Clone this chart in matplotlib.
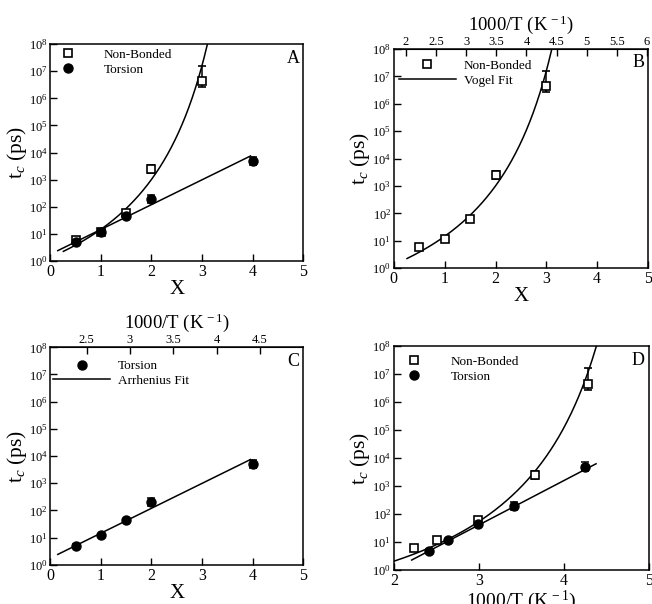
import matplotlib
matplotlib.use('Agg')
import matplotlib.pyplot as plt
import numpy as np
from matplotlib.ticker import FuncFormatter, NullLocator, LogLocator, FixedLocator

plt.rcParams['font.family'] = ['Liberation Serif', 'DejaVu Serif']
plt.rcParams['mathtext.fontset'] = 'custom'
plt.rcParams['mathtext.rm'] = 'Liberation Serif'
plt.rcParams['mathtext.it'] = 'Liberation Serif:italic'

# data
nb_x = [0.5, 1.0, 1.5, 2.0, 3.0]
nb_tc = [6, 12, 60, 2500, 4.5e6]
nb_lo = [5.3, 10.5, 52, 1800, 2.6e6]
nb_hi = [6.8, 13.5, 68, 3500, 1.6e7]

tor_x = [0.5, 1.0, 1.5, 2.0, 4.0]
tor_tc = [5, 12, 45, 200, 5000]
tor_lo = [4.5, 10.8, 40, 140, 3600]
tor_hi = [5.6, 13.3, 50, 280, 7000]

nb_invT = [2.24, 2.51, 2.99, 3.66, 4.29]
tor_invT = [2.41, 2.64, 2.99, 3.41, 4.25]

# fit parameters (ln tc = a + b/(x0 - x) for Vogel, ln tc = a + b*x for Arrhenius)
vogel_x = dict(a=-8.15, b=38.5, x0=4.556, lo=0.26, hi=3.11)
arrh_x = dict(a=0.558, b=2.111, lo=0.15, hi=3.96)
vogel_u = dict(a=-7.31, b=27.9, x0=5.468, lo=2.0, hi=4.39)
arrh_u = dict(a=-7.227, b=3.647, lo=2.21, hi=4.38)

# top axis mapping X -> 1000/T
b_map = (1.801, 0.8432)
c_map = (2.079, 0.584)


def vogel(p):
    x = np.linspace(p['lo'], p['hi'], 300)
    return x, np.exp(p['a'] + p['b'] / (p['x0'] - x))


def arrh(p):
    x = np.array([p['lo'], p['hi']])
    return x, np.exp(p['a'] + p['b'] * x)


def errs(v, lo, hi):
    v = np.array(v)
    return [v - np.array(lo), np.array(hi) - v]


def style(ax, xlim, xticks, letter):
    ax.set_yscale('log')
    ax.set_ylim(1, 1e8)
    ax.set_xlim(*xlim)
    ax.yaxis.set_major_locator(LogLocator(base=10, numticks=10))
    ax.yaxis.set_minor_locator(NullLocator())
    ax.set_xticks(xticks)
    ax.tick_params(axis='x', direction='in', length=5, width=1, labelsize=11.5, pad=2)
    ax.tick_params(axis='y', direction='in', length=5, width=1, labelsize=9, pad=2)
    for s in ax.spines.values():
        s.set_linewidth(1.1)
    ax.set_ylabel(r't$_c$ (ps)', fontsize=15.5, labelpad=0)
    ax.text(0.985, 0.975, letter, transform=ax.transAxes, ha='right', va='top', fontsize=13)


def top_axis(ax, m, ticks):
    sec = ax.secondary_xaxis('top', functions=(lambda x: m[0] + m[1] * x,
                                               lambda u: (u - m[0]) / m[1]))
    sec.xaxis.set_major_locator(FixedLocator(ticks))
    sec.xaxis.set_major_formatter(FuncFormatter(lambda v, p: '%g' % v))
    sec.tick_params(direction='in', length=5, width=1, labelsize=9, pad=1)
    sec.set_xlabel(r'1000/T (K$^{\,-1}$)', fontsize=13.5, labelpad=4)
    return sec


sq = dict(marker='s', ms=5.5, mfc='white', mec='black', mew=1.2, ls='none',
          ecolor='black', elinewidth=1.1, capsize=3, capthick=1.1)
ci = dict(marker='o', ms=6.5, mfc='black', mec='black', ls='none',
          ecolor='black', elinewidth=1.1, capsize=3, capthick=1.1)
leg = dict(frameon=False, fontsize=9.5, handlelength=4.3, handletextpad=0.6,
           labelspacing=0.2, borderaxespad=0, borderpad=0)

fig = plt.figure(figsize=(6.52, 6.04), dpi=100)

# A
ax = fig.add_axes([0.077, 0.568, 0.388, 0.359])
x, y = vogel(vogel_x)
ax.plot(x, y, color='black', lw=1.1)
x, y = arrh(arrh_x)
ax.plot(x, y, color='black', lw=1.1)
ax.errorbar(nb_x, nb_tc, yerr=errs(nb_tc, nb_lo, nb_hi), label='Non-Bonded', **sq)
ax.errorbar(tor_x, tor_tc, yerr=errs(tor_tc, tor_lo, tor_hi), label='Torsion', **ci)
style(ax, (0, 5), range(6), 'A')
ax.set_xlabel('X', fontsize=15, labelpad=0)
h, l = ax.get_legend_handles_labels()
ax.legend([hh[0] for hh in h], l, loc='upper left', bbox_to_anchor=(-0.043, 0.979), **leg)

# B
ax = fig.add_axes([0.604, 0.556, 0.39, 0.363])
x, y = vogel(vogel_x)
ax.plot(x, y, color='black', lw=1.1, label='Vogel Fit')
ax.errorbar(nb_x, nb_tc, yerr=errs(nb_tc, nb_lo, nb_hi), label='Non-Bonded', **sq)
style(ax, (0, 5), range(6), 'B')
ax.set_xlabel('X', fontsize=15, labelpad=0)
top_axis(ax, b_map, np.arange(2, 6.01, 0.5))
h, l = ax.get_legend_handles_labels()
ax.legend([h[1][0], h[0]], [l[1], l[0]], loc='upper left', bbox_to_anchor=(0.02, 0.952), **leg)

# C
ax = fig.add_axes([0.077, 0.065, 0.388, 0.36])
x, y = arrh(arrh_x)
ax.plot(x, y, color='black', lw=1.1, label='Arrhenius Fit')
ax.errorbar(tor_x, tor_tc, yerr=errs(tor_tc, tor_lo, tor_hi), label='Torsion', **ci)
style(ax, (0, 5), range(6), 'C')
ax.set_xlabel('X', fontsize=15, labelpad=0)
top_axis(ax, c_map, np.arange(2.5, 5.01, 0.5))
h, l = ax.get_legend_handles_labels()
ax.legend([h[1][0], h[0]], [l[1], l[0]], loc='upper left', bbox_to_anchor=(0.012, 0.942), **leg)

# D
ax = fig.add_axes([0.604, 0.056, 0.391, 0.371])
x, y = vogel(vogel_u)
ax.plot(x, y, color='black', lw=1.1)
x, y = arrh(arrh_u)
ax.plot(x, y, color='black', lw=1.1)
ax.errorbar(nb_invT, nb_tc, yerr=errs(nb_tc, nb_lo, nb_hi), label='Non-Bonded', **sq)
ax.errorbar(tor_invT, tor_tc, yerr=errs(tor_tc, tor_lo, tor_hi), label='Torsion', **ci)
style(ax, (2, 5), range(2, 6), 'D')
ax.set_xlabel(r'1000/T (K$^{\,-1}$)', fontsize=14, labelpad=0)
h, l = ax.get_legend_handles_labels()
ax.legend([hh[0] for hh in h], l, loc='upper left', bbox_to_anchor=(-0.031, 0.958), **leg)

fig.savefig('out.png', dpi=100)
